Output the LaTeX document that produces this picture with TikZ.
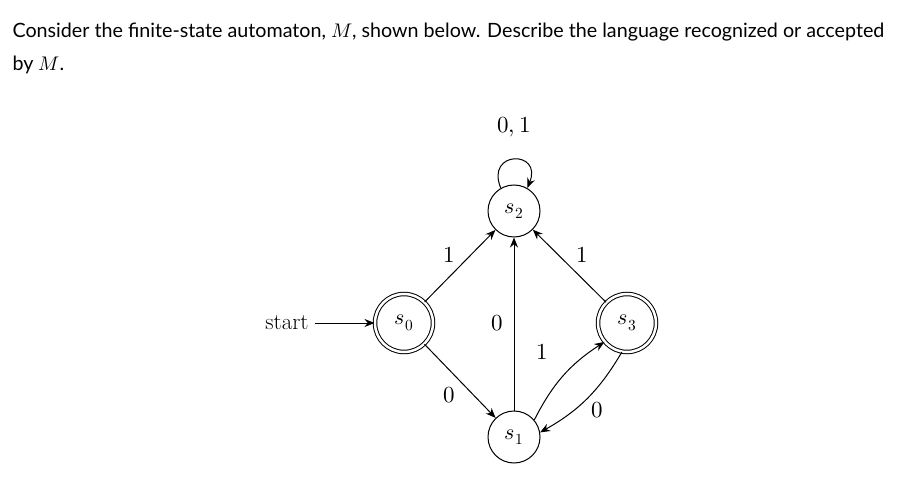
\documentclass[tikz,border=0pt]{standalone}
\usepackage{fontspec}
\setmainfont{Lato}
\newfontfamily\lmr{Latin Modern Roman}
\usepackage{unicode-math}
\setmathfont{Latin Modern Math}
\usetikzlibrary{arrows.meta,automata,positioning}
\begin{document}
\begin{tikzpicture}[x=1pt,y=-1pt,
  st/.style={circle,draw,line width=1pt,minimum size=52pt,inner sep=0pt,font=\fontsize{22}{22}\selectfont},
  acc/.style={st,double,double distance=2.5pt,minimum size=58pt},
  edge/.style={draw,-{Stealth[length=10pt,width=8pt]},line width=1pt},
  lab/.style={font=\fontsize{23}{23}\selectfont,inner sep=1pt}]
\useasboundingbox (0,0) rectangle (906,500);
\node[anchor=west,align=left,font=\fontsize{19.7}{33}\selectfont] (q) at (9,48)
 {Consider the finite-state automaton, $M$, shown below. Describe the language recognized or accepted\\ by $M$.};
\node[acc] (s0) at (404,323) {$s_0$};
\node[st] (s2) at (514,211) {$s_2$};
\node[st] (s1) at (514,437) {$s_1$};
\node[acc] (s3) at (627,323) {$s_3$};
\node[lab,font=\fontsize{23}{23}\lmr,inner sep=6pt] (start) at (287,323) {start};
\draw[edge] (start) -- (s0);
\draw[edge] (s0) -- (s2);
\draw[edge] (s0) -- (s1);
\draw[edge] (s1) -- (s2);
\draw[edge] (s3) -- (s2);
\draw[edge] (s1.40) to[bend left=15] (s3.220);
\draw[edge] (s3.260) to[bend left=15] (s1.10);
\draw[edge] (s2.120) .. controls (485,150) and (543,150) .. (s2.60);
\node[lab] (l1) at (449,255) {$1$};
\node[lab] (l2) at (449,395) {$0$};
\node[lab] (l3) at (497,323) {$0$};
\node[lab] (l4) at (582,255) {$1$};
\node[lab] (l5) at (542,352) {$1$};
\node[lab] (l6) at (597,410) {$0$};
\node[lab] (l7) at (514,127) {$0,1$};
\end{tikzpicture}
\end{document}
